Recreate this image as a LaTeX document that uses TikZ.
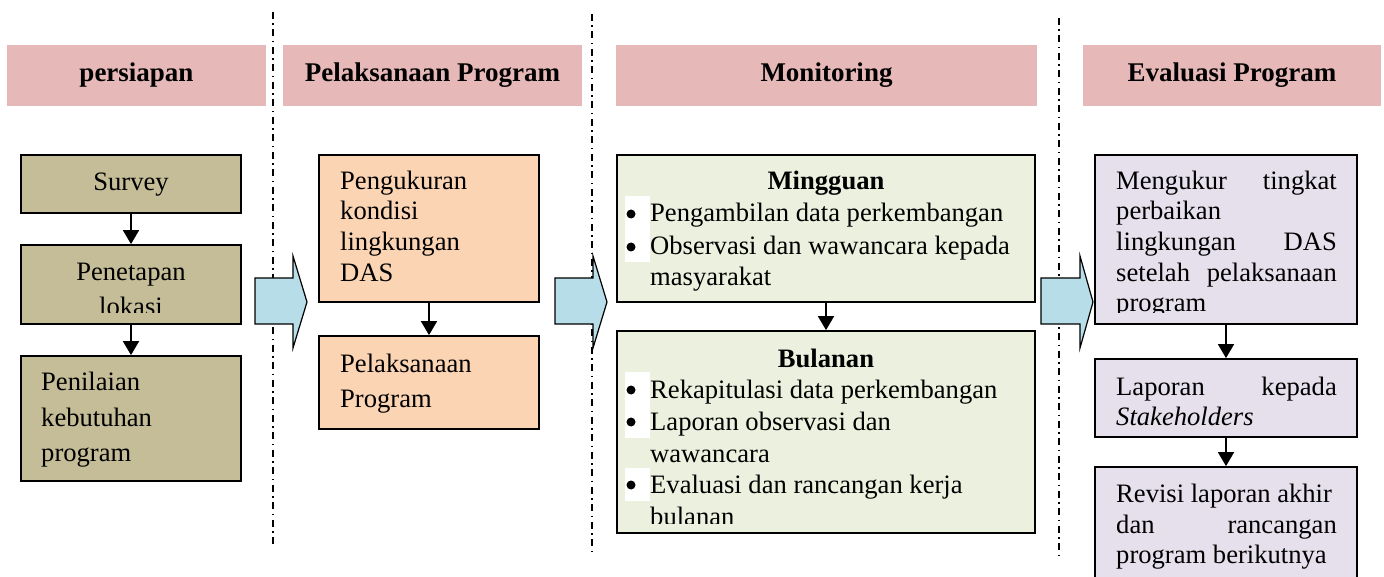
\documentclass[tikz,border=0pt]{standalone}
\usepackage{fontspec}
\setmainfont{Liberation Serif}
\usetikzlibrary{arrows.meta}
\definecolor{hdrc}{HTML}{E6B8B7}
\definecolor{olivec}{HTML}{C4BD97}
\definecolor{peachc}{HTML}{FBD4B4}
\definecolor{mintc}{HTML}{EBF1DE}
\definecolor{lavc}{HTML}{E5E0EC}
\definecolor{barrowc}{HTML}{B7DDE8}
\begin{document}
\begin{tikzpicture}[x=1pt,y=-1pt,
  hdr/.style={fill=hdrc, minimum height=61pt, inner sep=0pt, font=\fontsize{27}{32}\selectfont\bfseries},
  box/.style={draw=black, line width=1.8pt, inner sep=0pt},
  txt/.style={anchor=base west, inner sep=0pt, font=\fontsize{26.6}{31}\selectfont},
  ctxt/.style={anchor=base, inner sep=0pt, font=\fontsize{26.6}{31}\selectfont},
  etxt/.style={anchor=base east, inner sep=0pt, font=\fontsize{26.6}{31}\selectfont},
  arr/.style={line width=1.8pt, -{Triangle[width=16pt,length=14pt]}},
  sep/.style={line width=2pt, dash pattern=on 7pt off 4.5pt on 1.5pt off 4.5pt},
  blk/.style={draw=black, line width=1.2pt, fill=barrowc},
  bul/.style={circle, fill=black, minimum size=9pt, inner sep=0pt},
  wbg/.style={fill=white, draw=none}]
\useasboundingbox (0,0) rectangle (1384,577);
\clip (0,0) rectangle (1384,577);

% separators
\draw[sep] (273,12) -- (273,548);
\draw[sep] (592,14) -- (592,552);
\draw[sep] (1059,18) -- (1059,557);

% headers
\node[hdr, minimum width=259pt] (h1) at (136.5,75.5) {persiapan};
\node[hdr, minimum width=299pt] (h2) at (432.5,75.5) {Pelaksanaan Program};
\node[hdr, minimum width=421pt] (h3) at (826.5,75.5) {Monitoring};
\node[hdr, minimum width=298pt] (h4) at (1232,75.5) {Evaluasi Program};

% block arrows
\draw[blk] (255,278) -- (293,278) -- (293,256) -- (307,302) -- (293,348) -- (293,324) -- (255,324) -- cycle;
\draw[blk] (555,278) -- (593,278) -- (593,256) -- (607,302) -- (593,348) -- (593,324) -- (555,324) -- cycle;
\draw[blk] (1041,278) -- (1080,278) -- (1080,256) -- (1093,302) -- (1080,348) -- (1080,324) -- (1041,324) -- cycle;

% column 1
\node[box, fill=olivec, minimum width=220pt, minimum height=58pt] (survey) at (131,184) {};
\node[box, fill=olivec, minimum width=220pt, minimum height=79pt] (penetapan) at (131,284.5) {};
\node[box, fill=olivec, minimum width=220pt, minimum height=125pt] (penilaian) at (131,418.5) {};
\node[ctxt] (t1) at (131,191) {Survey};
\node[ctxt] (t2) at (131,281) {Penetapan};
\begin{scope}
\clip (21,245) rectangle (241,313);
\node[ctxt] (t3) at (131,316) {lokasi};
\end{scope}
\node[txt] (t4) at (41,390) {Penilaian};
\node[txt] (t5) at (41,426) {kebutuhan};
\node[txt] (t6) at (41,461) {program};
\draw[arr] (survey) -- (penetapan);
\draw[arr] (penetapan) -- (penilaian);

% column 2
\node[box, fill=peachc, minimum width=220pt, minimum height=147pt] (pengukuran) at (429,228.5) {};
\node[box, fill=peachc, minimum width=220pt, minimum height=93pt] (pelaksanaan) at (429,382.5) {};
\node[txt] (t7) at (340,190) {Pengukuran};
\node[txt] (t8) at (340,220) {kondisi};
\node[txt] (t9) at (340,251) {lingkungan};
\node[txt] (t10) at (340,282) {DAS};
\node[txt] (t11) at (340,372) {Pelaksanaan};
\node[txt] (t12) at (340,407) {Program};
\draw[arr] (pengukuran) -- (pelaksanaan);

% column 3
\node[box, fill=mintc, minimum width=418pt, minimum height=147pt] (mingguan) at (826,228.5) {};
\node[box, fill=mintc, minimum width=418pt, minimum height=202pt] (bulanan) at (826,432) {};
\fill[wbg] (625,196) rectangle (650,262);
\fill[wbg] (625,372) rectangle (650,438);
\fill[wbg] (625,468) rectangle (650,501);
\node[ctxt, font=\fontsize{26.6}{31}\selectfont\bfseries] (t13) at (826,190) {Mingguan};
\node[bul] (b1) at (631,214) {};
\node[txt] (t14) at (650,222) {Pengambilan data perkembangan};
\node[bul] (b2) at (631,247) {};
\node[txt] (t15) at (650,255) {Observasi dan wawancara kepada};
\node[txt] (t16) at (650,286) {masyarakat};
\node[ctxt, font=\fontsize{26.6}{31}\selectfont\bfseries] (t17) at (826,367) {Bulanan};
\node[bul] (b3) at (631,390) {};
\node[txt] (t18) at (650,398) {Rekapitulasi data perkembangan};
\node[bul] (b4) at (631,422) {};
\node[txt] (t19) at (650,430) {Laporan observasi dan};
\node[txt] (t20) at (650,462) {wawancara};
\node[bul] (b5) at (631,485) {};
\node[txt] (t21) at (650,493) {Evaluasi dan rancangan kerja};
\begin{scope}
\clip (617,331) rectangle (1035,523);
\node[txt] (t22) at (650,525) {bulanan};
\end{scope}
\draw[arr] (mingguan) -- (bulanan);

% column 4
\node[box, fill=lavc, minimum width=262pt, minimum height=169pt] (mengukur) at (1226,239.5) {};
\node[box, fill=lavc, minimum width=262pt, minimum height=78pt] (laporan) at (1226,398) {};
\node[box, fill=lavc, minimum width=262pt, minimum height=133pt] (revisi) at (1226,533.5) {};
\node[txt] (t23) at (1116,190) {Mengukur};
\node[etxt] (t24) at (1337,190) {tingkat};
\node[txt] (t25) at (1116,220) {perbaikan};
\node[txt] (t26) at (1116,251) {lingkungan};
\node[etxt] (t27) at (1337,251) {DAS};
\node[txt] (t28) at (1116,282) {setelah};
\node[etxt] (t29) at (1337,282) {pelaksanaan};
\begin{scope}
\clip (1095,155) rectangle (1357,313);
\node[txt] (t30) at (1116,312) {program};
\end{scope}
\node[txt] (t31) at (1116,395) {Laporan};
\node[etxt] (t32) at (1337,395) {kepada};
\node[txt] (t33) at (1116,425) {\itshape Stakeholders};
\node[txt] (t34) at (1116,502) {Revisi laporan akhir};
\node[txt] (t35) at (1116,533) {dan};
\node[etxt] (t36) at (1337,533) {rancangan};
\node[txt] (t37) at (1116,563) {program berikutnya};
\draw[arr] (mengukur) -- (laporan);
\draw[arr] (laporan) -- (revisi);
\end{tikzpicture}
\end{document}
